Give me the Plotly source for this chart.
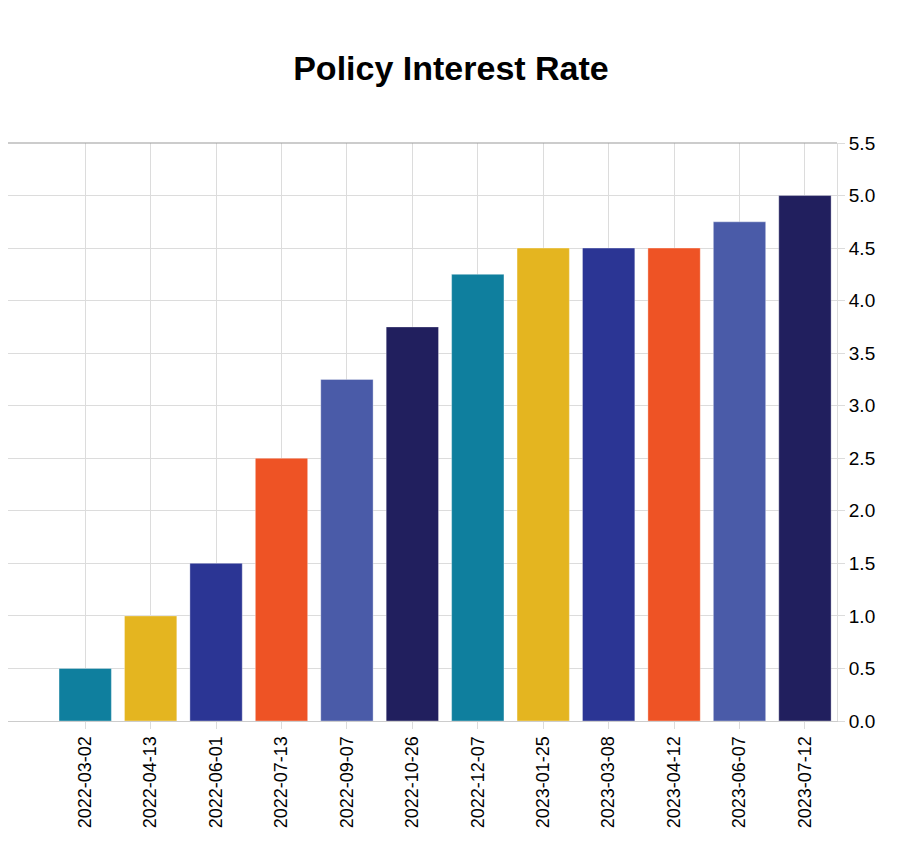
import plotly.graph_objects as go

dates = ["2022-03-02", "2022-04-13", "2022-06-01", "2022-07-13", "2022-09-07", "2022-10-26",
         "2022-12-07", "2023-01-25", "2023-03-08", "2023-04-12", "2023-06-07", "2023-07-12"]
rates = [0.5, 1.0, 1.5, 2.5, 3.25, 3.75, 4.25, 4.5, 4.5, 4.5, 4.75, 5.0]
colors = ["#0F7F9E", "#E4B520", "#2B3594", "#EE5325", "#4A5BA8", "#211F5E",
          "#0F7F9E", "#E4B520", "#2B3594", "#EE5325", "#4A5BA8", "#211F5E"]
y_ticks = [0.0, 0.5, 1.0, 1.5, 2.0, 2.5, 3.0, 3.5, 4.0, 4.5, 5.0, 5.5]

fig = go.Figure(go.Bar(
    x=dates, y=rates,
    marker=dict(color=colors, line=dict(color="rgba(255,255,255,0.35)", width=1)),
))

font_family = "Liberation Sans, Arial, sans-serif"
fig.update_layout(
    width=894, height=844,
    margin=dict(l=0, r=65, t=135, b=131),
    paper_bgcolor="white", plot_bgcolor="white",
    title=dict(text="<b>Policy Interest Rate</b>", x=0.4955, xanchor="center", y=0.929, yanchor="middle",
               font=dict(family=font_family, size=34, color="black")),
    font=dict(family=font_family, color="black"),
    bargap=0.2,
    showlegend=False,
    xaxis=dict(type="category", range=[-1.18, 11.49], tickangle=-90,
               tickfont=dict(size=18, color="black"),
               showgrid=True, gridcolor="#dcdcdc", gridwidth=1,
               ticks="outside", ticklen=7, tickcolor="#dcdcdc",
               showline=True, linecolor="#cccccc", linewidth=1),
    yaxis=dict(side="right", range=[0, 5.5], tickvals=y_ticks,
               ticktext=[f"{v:.1f}" for v in y_ticks],
               tickfont=dict(size=19, color="black"),
               showgrid=True, gridcolor="#dcdcdc", gridwidth=1,
               ticks="outside", ticklen=7, tickcolor="#dcdcdc",
               showline=True, linecolor="#dcdcdc", linewidth=1, zeroline=False),
)
fig.add_shape(type="line", xref="paper", yref="paper", x0=0, x1=1, y0=1, y1=1,
              line=dict(color="#999999", width=1))

fig.write_html("out.html")
